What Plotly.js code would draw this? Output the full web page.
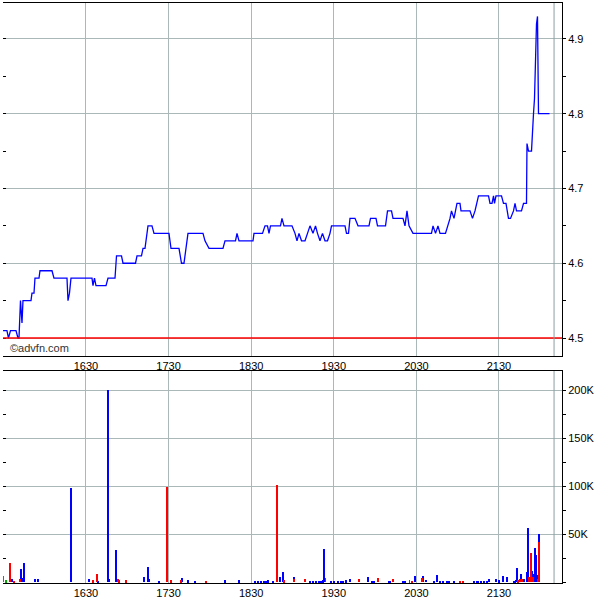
<!DOCTYPE html>
<html>
<head>
<meta charset="utf-8">
<script src="https://cdn.plot.ly/plotly-3.0.1.min.js"></script>
<style>html,body{margin:0;padding:0;background:#fff;}#chart{width:600px;height:600px;}</style>
</head>
<body>
<div id="chart"></div>
<script>
const DAY = '2024-01-02 ';

const priceTimes = ["15:29:45","15:32:35","15:33:42","15:35:10","15:39:09","15:40:36","15:41:20","15:42:25","15:43:31","15:44:14",
"15:50:03","15:50:46","15:52:14","15:52:57","15:55:52","15:56:35","16:05:18","16:06:45","16:16:12","16:16:56",
"16:18:01","16:19:06","16:34:22","16:35:05","16:36:10","16:37:16","16:44:32","16:45:59","16:51:04","16:52:10",
"16:55:47","16:56:53","17:05:58","17:07:03","17:10:19","17:11:25","17:12:52","17:15:02","17:17:56","17:19:24",
"17:30:17","17:31:01","17:31:44","17:37:33","17:39:22","17:41:11","17:43:00","17:44:05","17:54:59","17:56:26",
"17:59:21","18:09:31","18:10:58","18:18:36","18:19:41","18:21:08","18:31:19","18:32:02","18:38:13","18:40:02",
"18:41:50","18:42:56","18:44:01","18:51:17","18:52:22","18:53:50","18:59:38","19:01:49","19:03:16","19:04:43",
"19:06:32","19:09:05","19:10:54","19:12:43","19:14:53","19:16:43","19:18:10","19:19:59","19:21:47","19:23:37",
"19:25:26","19:27:14","19:28:20","19:38:08","19:39:14","19:40:41","19:41:46","19:45:24","19:47:35","19:55:34",
"19:56:40","20:00:40","20:01:45","20:07:34","20:09:01","20:11:55","20:13:01","20:20:16","20:21:43","20:23:10",
"20:24:38","20:27:32","20:40:58","20:42:04","20:43:53","20:45:41","20:47:09","20:51:08","20:54:25","20:55:30",
"20:57:19","20:59:29","21:01:40","21:02:24","21:08:56","21:10:45","21:12:34","21:13:40","21:15:07","21:22:23",
"21:23:28","21:24:55","21:26:01","21:26:44","21:27:49","21:31:49","21:33:16","21:35:05","21:36:54","21:38:22",
"21:40:32","21:41:38","21:42:43","21:46:21","21:47:49","21:49:59","21:50:20","21:51:26","21:53:37","21:55:04",
"21:55:47","21:57:14","21:57:58","21:58:42","22:06:41"];

const prices = [4.51,4.51,4.50,4.51,4.51,4.50,4.50,4.55,4.52,4.55,
4.55,4.56,4.56,4.58,4.58,4.59,4.59,4.58,4.58,4.55,
4.56,4.58,4.58,4.57,4.58,4.57,4.57,4.58,4.58,4.61,
4.61,4.60,4.60,4.61,4.61,4.62,4.62,4.65,4.65,4.64,
4.64,4.63,4.62,4.62,4.60,4.60,4.63,4.64,4.64,4.63,
4.62,4.62,4.63,4.63,4.64,4.63,4.63,4.64,4.64,4.65,
4.65,4.64,4.65,4.65,4.66,4.65,4.65,4.64,4.63,4.64,
4.63,4.63,4.64,4.65,4.64,4.65,4.64,4.63,4.64,4.63,
4.63,4.64,4.65,4.65,4.64,4.64,4.66,4.66,4.65,4.65,
4.66,4.66,4.65,4.65,4.67,4.67,4.66,4.66,4.65,4.67,
4.65,4.64,4.64,4.65,4.64,4.65,4.64,4.64,4.66,4.67,
4.66,4.68,4.68,4.67,4.67,4.66,4.67,4.68,4.69,4.69,
4.68,4.68,4.69,4.68,4.69,4.69,4.68,4.68,4.66,4.66,
4.67,4.68,4.67,4.67,4.68,4.68,4.76,4.75,4.75,4.80,
4.82,4.92,4.93,4.80,4.80];

const prevClose = 4.50;
const sessionMarker = "22:10";

const upTimes = ["15:36","15:43","15:44","15:45","15:53","15:55","16:19","16:32","16:39","16:46",
"16:47","16:52","17:12","17:15","17:16","17:23","17:40","17:44","17:49","18:11",
"18:21","18:33","18:35","18:37","18:39","18:41","18:42","18:46","18:51","18:53",
"19:01","19:13","19:15","19:17","19:19","19:21","19:22","19:23","19:28","19:30",
"19:33","19:35","19:37","19:39","19:42","19:55","19:58","19:59","20:10","20:11",
"20:20","20:22","20:29","20:35","20:37","20:43","20:45","20:47","20:49","20:52",
"20:54","20:57","21:12","21:14","21:15","21:17","21:19","21:21","21:23","21:28",
"21:30","21:33","21:36","21:41","21:42","21:43","21:46","21:48","21:50","21:51",
"21:54","21:55","21:56","21:57","21:58","21:59"];
const upVolume = [3000,13500,4000,20000,3000,3000,98000,3000,1000,200000,
3000,33000,5000,15500,3000,1000,4500,2000,1000,2000,
2000,1000,1000,1000,1000,1000,2000,1000,5000,10500,
5000,1000,1000,1000,1000,1000,2000,34500,1000,1000,
1000,1000,1000,2000,3000,5000,1000,1000,1000,1000,
1000,1000,6000,6000,2500,1000,7500,1000,1000,1000,
1000,1000,1000,1000,1000,1000,1000,1000,3000,3000,
2000,6000,5000,1000,2000,14500,8000,3000,10000,56000,
12000,8000,36000,28000,7000,50000];

const downTimes = ["15:35","15:38","15:42","16:35","16:38","16:53","16:54","16:59","17:29","17:32",
"17:39","17:57","18:49","18:54","19:01","19:09","19:24","19:48","20:02","20:13",
"20:25","20:27","20:34","21:02","21:04","21:44","21:45","21:47","21:52","21:53",
"21:55","21:58","21:59"];
const downVolume = [20000,1500,3000,2000,8700,3000,2000,2000,99000,2000,
2000,1000,101000,2000,3000,3000,4000,3000,4000,3000,
2000,1000,4000,1000,1000,2000,3000,3000,5000,30500,
5000,3000,42000];

const flatTimes = ["15:30","15:32"];
const flatVolume = [6000,2000];

const priceTicks = [4.5,4.6,4.7,4.8,4.9];
const volTickVals = [50000,100000,150000,200000];
const volTickText = ["50K","100K","150K","200K"];

const toX = a => a.map(t => DAY + t);
const xRange = [DAY + "15:29:43", DAY + "22:15:46"];
const GRID = '#aab8b8';
const BAR_W = 40000;

const priceDomain = [0.3914, 1];
const volDomain = [0, 0.3655];

const traces = [
  {type:'scatter', mode:'lines', x: toX(priceTimes), y: prices, xaxis:'x', yaxis:'y',
   line:{color:'#0000ff', width:1.3}, hoverinfo:'skip'},
  {type:'scatter', mode:'lines', x: [], y: [], xaxis:'x', yaxis:'y3', hoverinfo:'skip'},
  {type:'bar', x: toX(upTimes), y: upVolume, xaxis:'x2', yaxis:'y2', width: BAR_W,
   marker:{color:'#0000ff', line:{width:0}}, hoverinfo:'skip'},
  {type:'bar', x: toX(downTimes), y: downVolume, xaxis:'x2', yaxis:'y2', width: BAR_W,
   marker:{color:'#ff0000', line:{width:0}}, hoverinfo:'skip'},
  {type:'bar', x: toX(flatTimes), y: flatVolume, xaxis:'x2', yaxis:'y2', width: BAR_W,
   marker:{color:'#00aa00', line:{width:0}}, hoverinfo:'skip'},
  {type:'scatter', mode:'lines', x: [], y: [], xaxis:'x2', yaxis:'y4', hoverinfo:'skip'}
];

const xCommon = {
  type:'date', range: xRange, tickformat:'%H%M', dtick: 3600000, tick0: DAY + '16:30',
  showgrid:true, gridcolor: GRID, gridwidth:1, showline:true, mirror:true, linecolor:'#000', linewidth:1,
  ticks:'', zeroline:false, tickfont:{size:11, color:'#000'}, fixedrange:true
};

const layout = {
  width:600, height:600,
  margin:{l:3, r:38, t:3, b:17, pad:0},
  paper_bgcolor:'#fff', plot_bgcolor:'#fff',
  showlegend:false, barmode:'overlay', bargap:0, hovermode:false, dragmode:false,
  font:{family:'Arial, "Liberation Sans", sans-serif', size:11, color:'#000'},
  xaxis: Object.assign({}, xCommon, {anchor:'y', domain:[0,1]}),
  xaxis2: Object.assign({}, xCommon, {anchor:'y2', domain:[0,1]}),
  yaxis: {domain: priceDomain, anchor:'x', range:[4.476, 4.948], side:'right',
    tickmode:'array', tickvals: priceTicks, tickformat:'.1f',
    ticks:'outside', ticklen:3, tickcolor:'#000',
    minor:{dtick:0.05, tick0:4.5, ticks:'outside', ticklen:3, tickcolor:'#000', showgrid:false},
    showgrid:true, gridcolor: GRID, showline:true, linecolor:'#000', linewidth:1, zeroline:false, fixedrange:true},
  yaxis3: {overlaying:'y', anchor:'x', side:'left', range:[4.476, 4.948], dtick:0.05, tick0:4.5,
    ticks:'inside', ticklen:3, tickcolor:'#000', showticklabels:false, showgrid:false, zeroline:false, showline:false},
  yaxis2: {domain: volDomain, anchor:'x2', range:[-1000, 220000], side:'right',
    tickmode:'array', tickvals: volTickVals, ticktext: volTickText,
    ticks:'outside', ticklen:3, tickcolor:'#000',
    minor:{dtick:25000, tick0:0, ticks:'outside', ticklen:3, tickcolor:'#000', showgrid:false},
    showgrid:true, gridcolor: GRID, showline:true, linecolor:'#000', linewidth:1, zeroline:false, fixedrange:true},
  yaxis4: {overlaying:'y2', anchor:'x2', side:'left', range:[-1000, 220000], dtick:25000, tick0:0,
    ticks:'inside', ticklen:3, tickcolor:'#000', showticklabels:false, showgrid:false, zeroline:false, showline:false},
  shapes: [
    {type:'line', xref:'x domain', yref:'y', x0:0, x1:1, y0: prevClose, y1: prevClose,
     line:{color:'#ff0000', width:1.5}},
    {type:'line', xref:'x', yref:'paper', x0: DAY + sessionMarker, x1: DAY + sessionMarker,
     y0: priceDomain[0], y1: priceDomain[1], line:{color:'#8e9e9e', width:1}},
    {type:'line', xref:'x2', yref:'paper', x0: DAY + sessionMarker, x1: DAY + sessionMarker,
     y0: volDomain[0], y1: volDomain[1], line:{color:'#8e9e9e', width:1}}
  ],
  annotations: [
    {text:'©advfn.com', xref:'paper', yref:'paper', x:0.009, y:0.405, xanchor:'left', yanchor:'middle',
     showarrow:false, font:{size:11, color:'#333'}}
  ]
};

Plotly.newPlot('chart', traces, layout, {displayModeBar:false});
</script>
</body>
</html>
